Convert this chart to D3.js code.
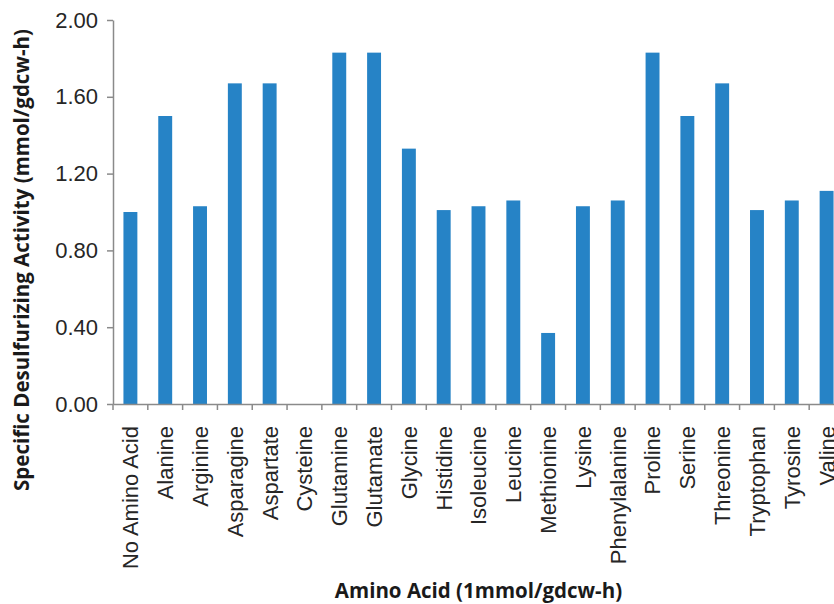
<!DOCTYPE html>
<html>
<head>
<meta charset="utf-8">
<script src="https://cdn.jsdelivr.net/npm/d3@7"></script>
<style>
  body { margin: 0; background: #fff; }
  svg { display: block; font-family: Lato, "Open Sans", sans-serif; }
</style>
</head>
<body>
<svg id="chart" width="834" height="604"></svg>
<script>
// amino acid categories, in the order of the x axis
const aminoAcids = [
  "No Amino Acid", "Alanine", "Arginine", "Asparagine", "Aspartate", "Cysteine",
  "Glutamine", "Glutamate", "Glycine", "Histidine", "Isoleucine", "Leucine",
  "Methionine", "Lysine", "Phenylalanine", "Proline", "Serine", "Threonine",
  "Tryptophan", "Tyrosine", "Valine"
];
// specific desulfurizing activity (mmol/gdcw-h)
const activity = [
  1.00, 1.50, 1.03, 1.67, 1.67, 0.00,
  1.83, 1.83, 1.33, 1.01, 1.03, 1.06,
  0.37, 1.03, 1.06, 1.83, 1.50, 1.67,
  1.01, 1.06, 1.11
];
const yTicks = [0, 0.4, 0.8, 1.2, 1.6, 2.0];

const yTitle = "Specific Desulfurizing Activity (mmol/gdcw-h)";
const xTitle = "Amino Acid (1mmol/gdcw-h)";

const svg = d3.select("#chart");
// plot area runs past the right edge of the picture, like the original crop
const margin = { top: 20, left: 113 };
const plotRight = 844;
const plotBottom = 404;

const axisColor = "#8a8a8a";
const textColor = "#262626";
const barColor = "#2683c6";

const x = d3.scaleBand()
  .domain(aminoAcids)
  .range([margin.left, plotRight])
  .paddingInner(0.6)
  .paddingOuter(0.3);

const y = d3.scaleLinear()
  .domain([0, 2])
  .range([plotBottom, margin.top]);

const data = aminoAcids.map((name, i) => ({ name, value: activity[i] }));

// bars
svg.append("g")
  .selectAll("rect")
  .data(data)
  .join("rect")
  .attr("x", d => x(d.name))
  .attr("y", d => y(d.value))
  .attr("width", x.bandwidth())
  .attr("height", d => y(0) - y(d.value))
  .attr("fill", barColor);

// y axis
const yAxis = svg.append("g")
  .attr("transform", `translate(${margin.left},0)`)
  .call(d3.axisLeft(y).tickValues(yTicks).tickFormat(d3.format(".2f")).tickSize(6).tickSizeOuter(0).tickPadding(9));
yAxis.select(".domain").attr("stroke", axisColor).attr("stroke-width", 1.5);
yAxis.selectAll(".tick line").attr("stroke", axisColor).attr("stroke-width", 1.5);
yAxis.selectAll(".tick text")
  .attr("fill", textColor)
  .style("font-size", "22px");

// x axis: labels at the band centres, tick marks on the band edges
const xAxis = svg.append("g")
  .attr("transform", `translate(0,${plotBottom})`)
  .call(d3.axisBottom(x).tickSize(0).tickSizeOuter(0));
xAxis.select(".domain").attr("stroke", axisColor).attr("stroke-width", 1.5);
xAxis.selectAll(".tick text")
  .attr("fill", textColor)
  .style("font-size", "22px")
  .attr("text-anchor", "end")
  .attr("transform", "rotate(-90)")
  .attr("x", -22)
  .attr("y", 0)
  .attr("dy", "0.36em");

const edges = d3.range(aminoAcids.length + 1).map(i => margin.left + i * x.step());
xAxis.selectAll(".edge")
  .data(edges)
  .join("line")
  .attr("class", "edge")
  .attr("x1", d => d).attr("x2", d => d)
  .attr("y1", 0).attr("y2", 6)
  .attr("stroke", axisColor)
  .attr("stroke-width", 1.5);

// axis titles
svg.append("text")
  .attr("transform", "translate(29,260) rotate(-90)")
  .attr("text-anchor", "middle")
  .attr("fill", "#1a1a1a")
  .style("font-family", "'Open Sans', sans-serif")
  .style("font-size", "20.5px")
  .style("font-weight", "bold")
  .text(yTitle);

svg.append("text")
  .attr("x", (margin.left + plotRight) / 2)
  .attr("y", 598)
  .attr("text-anchor", "middle")
  .attr("fill", "#1a1a1a")
  .style("font-family", "'Open Sans', sans-serif")
  .style("font-size", "20.5px")
  .style("font-weight", "bold")
  .text(xTitle);
</script>
</body>
</html>
